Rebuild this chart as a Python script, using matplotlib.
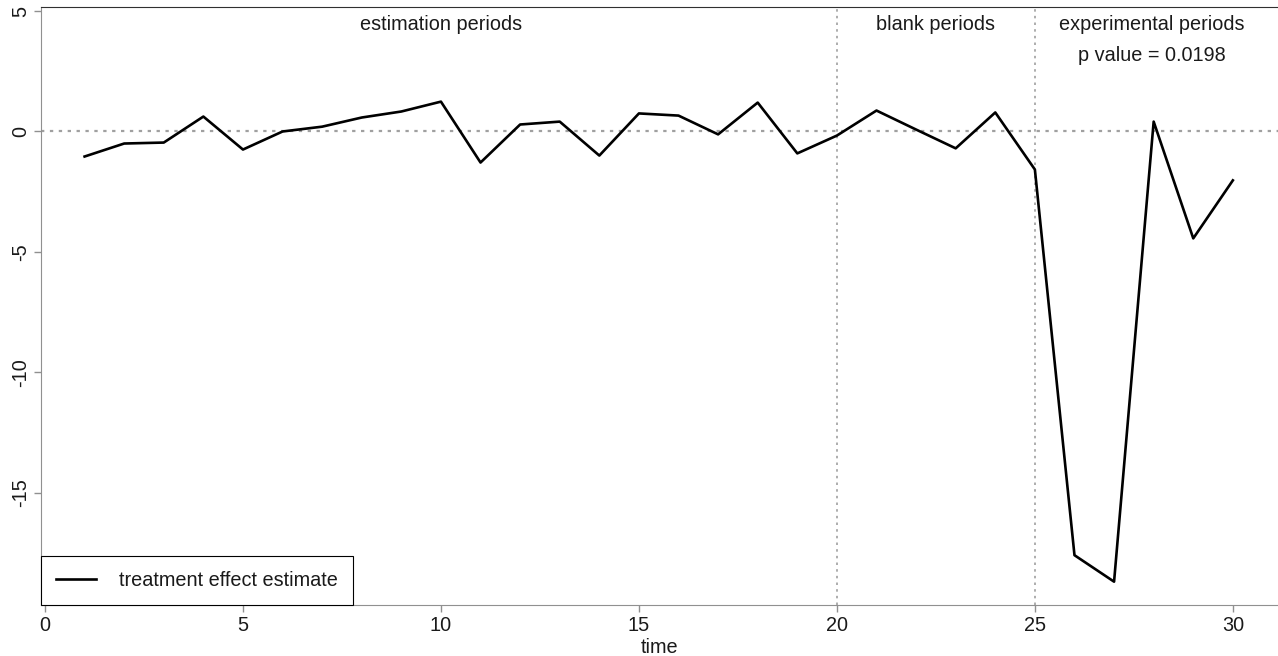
import matplotlib.pyplot as plt

plt.rcParams['font.family'] = ['Liberation Sans', 'DejaVu Sans']
plt.rcParams['axes.unicode_minus'] = False

# treatment effect estimate by period
time = list(range(1, 31))
effect = [-1.04, -0.50, -0.46, 0.62, -0.75, 0.00, 0.20, 0.58, 0.83, 1.24,
          -1.29, 0.29, 0.41, -1.00, 0.75, 0.66, -0.12, 1.20, -0.91, -0.17,
          0.87, 0.08, -0.70, 0.79, -1.58, -17.6, -18.7, 0.41, -4.44, -2.03]

xticks = [0, 5, 10, 15, 20, 25, 30]
yticks = [-15, -10, -5, 0, 5]
period_breaks = [20, 25]

fig = plt.figure(figsize=(12.78, 6.56), dpi=100)
ax = fig.add_axes([0.0321, 0.0777, 0.9679, 0.9116])

grey = '#909090'
txt = '#1a1a1a'
fs = 14.3

ax.axhline(0, color='#a0a0a0', linestyle=(0, (1.5, 2.5)), linewidth=1.6, zorder=1)
for b in period_breaks:
    ax.axvline(b, color='#a0a0a0', linestyle=(0, (1.5, 2.5)), linewidth=1.2, zorder=1)

ax.plot(time, effect, color='black', linewidth=1.9, label='treatment effect estimate', zorder=3)

ax.set_xlim(-0.1, 31.14)
ax.set_ylim(-19.67, 5.17)
ax.set_xticks(xticks)
ax.set_yticks(yticks)
ax.tick_params(labelsize=fs, color=grey, length=5, width=1, labelcolor=txt, pad=3)
for lab in ax.get_yticklabels():
    lab.set_rotation(90)
    lab.set_va('center')
ax.set_xlabel('time', fontsize=fs, labelpad=2, color=txt)

ax.spines['left'].set_color(grey)
ax.spines['bottom'].set_color(grey)
ax.spines['top'].set_color('#303030')
ax.spines['right'].set_visible(False)

ax.text(10, 4.45, 'estimation periods', ha='center', va='center', fontsize=fs, color=txt)
ax.text(22.5, 4.45, 'blank periods', ha='center', va='center', fontsize=fs, color=txt)
ax.text(27.95, 4.45, 'experimental periods', ha='center', va='center', fontsize=fs, color=txt)
ax.text(27.95, 3.15, 'p value = 0.0198', ha='center', va='center', fontsize=fs, color=txt)

leg = ax.legend(loc='lower left', bbox_to_anchor=(0, 0), fontsize=fs, fancybox=False,
                edgecolor='black', framealpha=1, borderaxespad=0, handlelength=2.0,
                borderpad=0.75, handletextpad=1.2)
leg.get_frame().set_linewidth(0.8)
for t in leg.get_texts():
    t.set_color(txt)

fig.savefig('out.png', dpi=100)
